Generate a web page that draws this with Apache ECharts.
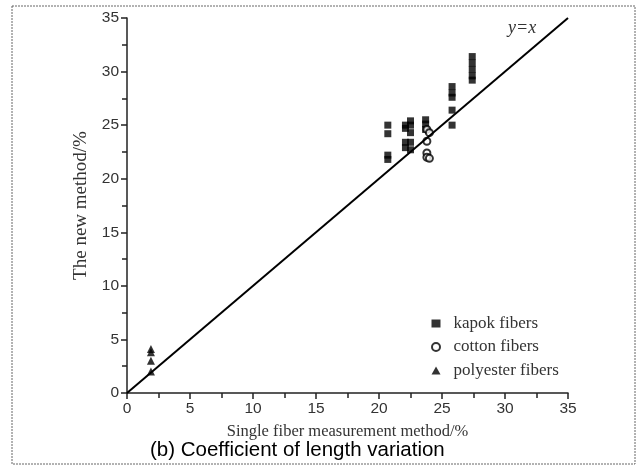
<!DOCTYPE html>
<html>
<head>
<meta charset="utf-8">
<script src="https://cdn.jsdelivr.net/npm/echarts@6/dist/echarts.min.js"></script>
<style>
  html, body { margin: 0; padding: 0; background: #fff; }
  #chart { width: 642px; height: 470px; }
</style>
</head>
<body>
<div id="chart"></div>
<script>
// single fiber method (x) vs new method (y), CV of length %
const kapokX = [20.7, 20.7, 20.7, 20.7, 22.1, 22.1, 22.1, 22.1, 22.5, 22.5, 22.5, 22.5, 22.5, 23.7, 23.7, 23.7, 25.8, 25.8, 25.8, 25.8, 25.8, 27.4, 27.4, 27.4, 27.4, 27.4];
const kapokY = [25.0, 24.2, 22.2, 21.8, 25.0, 24.7, 23.4, 22.9, 25.4, 25.0, 24.3, 23.4, 22.7, 25.5, 25.1, 24.6, 28.6, 28.0, 27.6, 26.4, 25.0, 31.4, 30.8, 30.2, 29.6, 29.2];
const cottonX = [23.8, 24.0, 23.8, 23.8, 23.8, 24.0];
const cottonY = [24.6, 24.3, 23.5, 22.4, 22.0, 21.9];
const polyX = [1.9, 1.9, 1.9, 1.9];
const polyY = [4.1, 3.8, 3.0, 2.0];
const lineXY = [[0, 0], [35, 35]];

const pairs = (xs, ys) => xs.map((x, i) => [x, ys[i]]);

let myChart = echarts.init(document.getElementById('chart'));

const serif = '"Liberation Serif", "Times New Roman", serif';
const sans = '"Liberation Sans", Arial, sans-serif';

let option = {
  animation: false,
  backgroundColor: '#fff',
  grid: { left: 127, right: 74, top: 18, bottom: 77 },
  xAxis: {
    type: 'value', min: 0, max: 35, interval: 5,
    name: 'Single fiber measurement method/%',
    nameLocation: 'middle', nameGap: 30,
    nameTextStyle: { fontFamily: serif, fontSize: 16.5, color: '#333' },
    axisLine: { show: true, lineStyle: { color: '#222', width: 1.5 } },
    axisTick: { show: true, inside: false, length: 6, lineStyle: { color: '#222', width: 1.5 } },
    minorTick: { show: true, splitNumber: 2, length: 5, lineStyle: { color: '#222', width: 1.5 } },
    axisLabel: { fontFamily: sans, fontSize: 15.5, color: '#333', margin: 8 },
    splitLine: { show: false }
  },
  yAxis: {
    type: 'value', min: 0, max: 35, interval: 5,
    name: 'The new method/%',
    nameLocation: 'middle', nameGap: 30,
    nameTextStyle: { fontFamily: serif, fontSize: 19, color: '#333' },
    axisLine: { show: true, lineStyle: { color: '#222', width: 1.5 } },
    axisTick: { show: true, inside: false, length: 6, lineStyle: { color: '#222', width: 1.5 } },
    minorTick: { show: true, splitNumber: 2, length: 5, lineStyle: { color: '#222', width: 1.5 } },
    axisLabel: { fontFamily: sans, fontSize: 15.5, color: '#333', margin: 8 },
    splitLine: { show: false }
  },
  legend: {
    orient: 'vertical', left: 426, top: 310, itemGap: 6.5,
    itemWidth: 9, itemHeight: 8,
    textStyle: { fontFamily: serif, fontSize: 17, color: '#333', padding: [0, 0, 0, 8] },
    data: [
      { name: 'kapok fibers', icon: 'rect', itemStyle: { borderWidth: 0 } },
      { name: 'cotton fibers', icon: 'emptyCircle' },
      { name: 'polyester fibers', icon: 'triangle' }
    ]
  },
  graphic: [
    {
      type: 'rect', shape: { x: 12, y: 6, width: 623, height: 458 },
      style: { fill: 'none', stroke: '#666', lineWidth: 1, lineDash: [2, 1] }, silent: true
    },
    {
      type: 'text', left: 150, top: 440,
      style: { text: '(b) Coefficient of length variation', font: '20.5px "Liberation Sans", Arial, sans-serif', fill: '#000' }
    },
    {
      type: 'text', left: 508, top: 19,
      style: { text: 'y=x', font: 'italic 18px "Liberation Serif", "Times New Roman", serif', fill: '#333' }
    }
  ],
  series: [
    {
      name: 'y=x', type: 'line', data: lineXY, showSymbol: false, silent: true,
      lineStyle: { color: '#000', width: 2 }
    },
    {
      name: 'kapok fibers', type: 'scatter', symbol: 'rect', symbolSize: [7, 7],
      itemStyle: { color: '#000' }, data: pairs(kapokX, kapokY)
    },
    {
      name: 'cotton fibers', type: 'scatter', symbol: 'emptyCircle', symbolSize: 7,
      itemStyle: { color: '#000', borderColor: '#000', borderWidth: 1.2 }, data: pairs(cottonX, cottonY)
    },
    {
      name: 'polyester fibers', type: 'scatter', symbol: 'triangle', symbolSize: 8,
      itemStyle: { color: '#000' }, data: pairs(polyX, polyY)
    }
  ]
};

myChart.setOption(option);
</script>
</body>
</html>
